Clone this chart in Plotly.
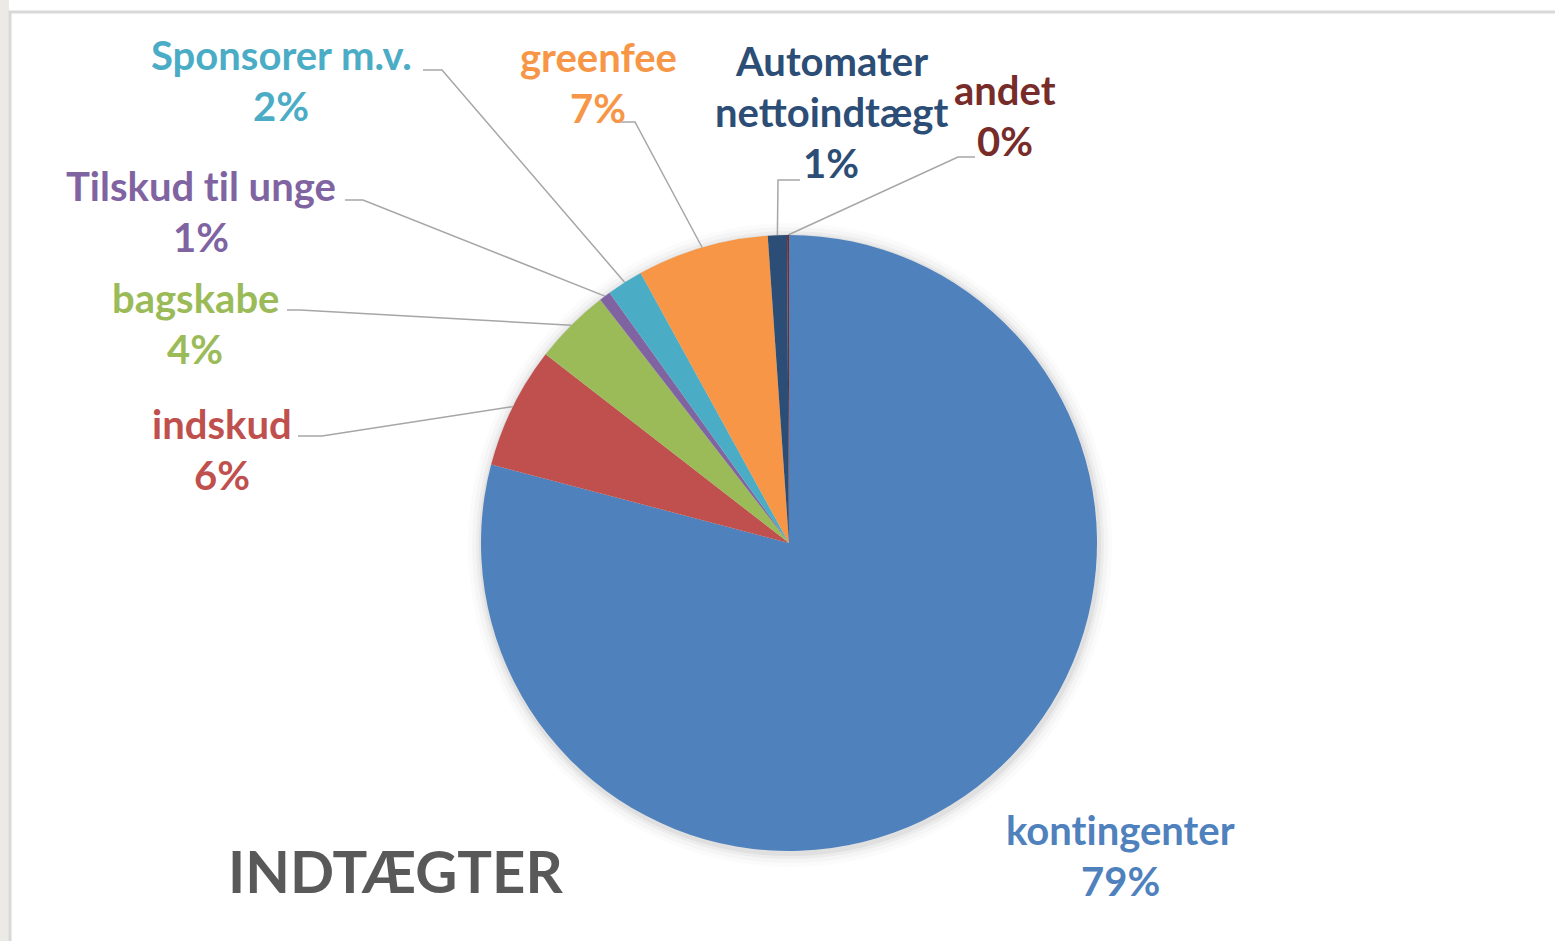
import math
import plotly.graph_objects as go

# ---- data ----
categories = ["kontingenter", "indskud", "bagskabe", "Tilskud til unge",
              "Sponsorer m.v.", "greenfee", "Automater nettoindtægt", "andet"]
label_lines = [["kontingenter"], ["indskud"], ["bagskabe"], ["Tilskud til unge"],
               ["Sponsorer m.v."], ["greenfee"], ["Automater", "nettoindtægt"], ["andet"]]
values = [79.1, 6.4, 4.0, 0.6, 1.9, 6.9, 1.0, 0.1]
title_text = "INDTÆGTER"

# ---- styles ----
colors = ["#4F81BD", "#C0504D", "#9BBB59", "#8064A2",
          "#4BACC6", "#F79646", "#2C4D75", "#772C2A"]
W, H = 1555, 941
CX, CY, R = 789, 543, 308
FONT = "Lato"
FS = 40
LINE_GAP = 51
# label block: (center x, first line center y), leader: (label end point, elbow point) or None
label_pos = [(1120, 830), (222, 424), (195, 298), (201, 186),
             (281, 55), (598, 57), (831, 61), (1005, 90)]
leaders = [None,
           ((298, 436), (322, 436)),
           ((287, 310), (300, 310)),
           ((345, 200), (363, 200)),
           ((423, 70), (442, 70)),
           ((615, 122), (635, 122)),
           ((800, 180), (778, 180)),
           ((975, 157), (958, 157))]


def no_lig(s):
    # keep "ti" from turning into a ligature glyph
    return s.replace("ti", "t\u200ci")


total = sum(values)
pct_text = [f"{round(v / total * 100)}%" for v in values]

fig = go.Figure()

# leader lines, attached to slice mid-angle on pie edge
cum = 0.0
for i, v in enumerate(values):
    mid = (cum + v / 2) / total * 2 * math.pi
    cum += v
    if leaders[i] is None:
        continue
    ex = CX + R * math.sin(mid)
    ey = CY - R * math.cos(mid)
    (lx, ly), (bx, by) = leaders[i]
    fig.add_trace(go.Scatter(x=[lx, bx, ex], y=[ly, by, ey], mode="lines",
                             line=dict(color="#A6A6A6", width=1.5),
                             hoverinfo="skip", showlegend=False))

fig.add_trace(go.Pie(
    labels=categories, values=values, sort=False, direction="clockwise",
    rotation=0, marker=dict(colors=colors, line=dict(width=0)),
    textinfo="none", hoverinfo="skip", showlegend=False,
    domain=dict(x=[(CX - R) / W, (CX + R) / W], y=[1 - (CY + R) / H, 1 - (CY - R) / H]),
))

annotations = []
for i, lines in enumerate(label_lines):
    x0, y0 = label_pos[i]
    for j, t in enumerate(lines + [pct_text[i]]):
        annotations.append(dict(x=x0, y=y0 + j * LINE_GAP, xref="x", yref="y", text=no_lig(t),
                                showarrow=False, xanchor="center", yanchor="middle",
                                font=dict(family=FONT, size=FS, color=colors[i], weight=700)))
annotations.append(dict(x=395, y=870, xref="x", yref="y", text=title_text, showarrow=False,
                        xanchor="center", yanchor="middle",
                        font=dict(family=FONT, size=58, color="#595959", weight=700)))

shapes = [
    dict(type="rect", xref="x", yref="y", x0=0, x1=9, y0=0, y1=H,
         fillcolor="#ECEAE7", line=dict(width=0), layer="below"),
    dict(type="rect", xref="x", yref="y", x0=10, x1=W + 20, y0=12, y1=H + 20,
         fillcolor="white", line=dict(color="#D9D9D9", width=3), layer="below"),
]
for k, a in [(14, 0.015), (10, 0.025), (6, 0.035), (3, 0.05)]:
    shapes.append(dict(type="circle", xref="x", yref="y",
                       x0=CX - R - k + 1, x1=CX + R + k + 1, y0=CY - R - k + 2, y1=CY + R + k + 2,
                       fillcolor=f"rgba(0,0,0,{a})", line=dict(width=0), layer="below"))

fig.update_layout(
    width=W, height=H, margin=dict(l=0, r=0, t=0, b=0),
    paper_bgcolor="white", plot_bgcolor="rgba(0,0,0,0)",
    xaxis=dict(range=[0, W], visible=False, domain=[0, 1], fixedrange=True),
    yaxis=dict(range=[H, 0], visible=False, domain=[0, 1], fixedrange=True),
    annotations=annotations, shapes=shapes, showlegend=False,
)

fig.write_html("out.html", config={"displayModeBar": False},
               post_script="document.body.style.margin='0';document.body.style.overflow='hidden';")
